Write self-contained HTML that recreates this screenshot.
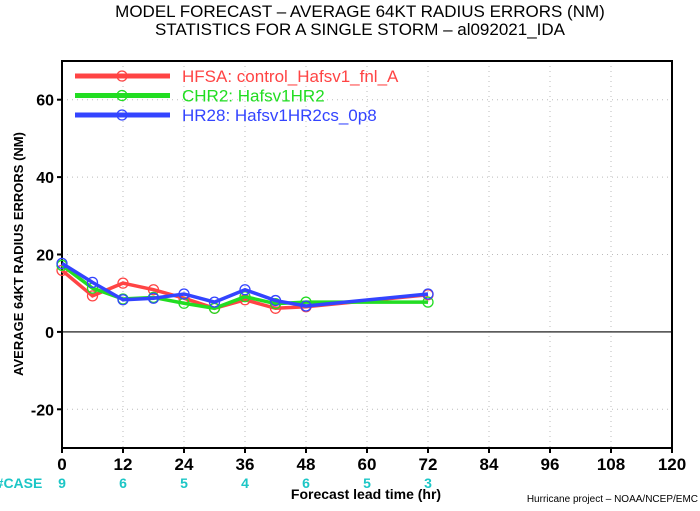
<!DOCTYPE html>
<html><head><meta charset="utf-8"><style>
body{margin:0;background:#fff;}
svg text{font-family:"Liberation Sans",sans-serif;}
</style></head><body>
<svg width="700" height="506" xmlns="http://www.w3.org/2000/svg">
<text x="360" y="17" text-anchor="middle" font-size="17">MODEL FORECAST – AVERAGE 64KT RADIUS ERRORS (NM)</text>
<text x="360" y="35" text-anchor="middle" font-size="17">STATISTICS FOR A SINGLE STORM – al092021_IDA</text>
<g id="grid"></g>
<g id="axes"></g>
<g id="series"></g>
<g id="legend"></g>
<text transform="translate(23,254) rotate(-90)" text-anchor="middle" font-size="13" font-weight="bold">AVERAGE 64KT RADIUS ERRORS (NM)</text>
<text x="366" y="499" text-anchor="middle" font-size="14" font-weight="bold">Forecast lead time (hr)</text>
<text x="19" y="488" text-anchor="middle" font-size="14" font-weight="bold" fill="#1cc6c6">#CASE</text>
<text x="698" y="502" text-anchor="end" font-size="10">Hurricane project – NOAA/NCEP/EMC</text>
</svg>
<script>
const hours=[0,6,12,18,24,30,36,42,48,72];
const hfsa=[15.9,9.3,12.6,10.9,8.7,6.1,8.3,6.1,6.5,9.6];
const chr2=[17.2,11.3,8.5,8.9,7.4,6.1,9.1,7.3,7.7,7.7];
const hr28=[17.7,12.8,8.3,8.7,9.8,7.7,10.9,8.1,6.7,9.8];
const xTicks=[0,12,24,36,48,60,72,84,96,108,120];
const yTicks=[-20,0,20,40,60];
const caseHours=[0,12,24,36,48,60,72];
const caseCounts=[9,6,5,4,6,5,3];
const L=62,R=672,T=61,B=448,ymin=-30,ymax=70;
const X=h=>L+(h/120)*(R-L);
const Y=v=>B-(v-ymin)/(ymax-ymin)*(B-T);
const NS="http://www.w3.org/2000/svg";
function mk(p,tag,attrs){const e=document.createElementNS(NS,tag);for(const k in attrs)e.setAttribute(k,attrs[k]);p.appendChild(e);return e;}
const grid=document.getElementById('grid'),axes=document.getElementById('axes'),ser=document.getElementById('series'),leg=document.getElementById('legend');
xTicks.forEach(t=>{const g=mk(grid,'line',{x1:X(t),x2:X(t),y1:T,y2:B,stroke:'#bbb','stroke-dasharray':'1,4'});


const tk=mk(axes,'line',{x1:X(t),x2:X(t),y1:B,y2:B+5,stroke:'#000','stroke-width':2});


const tx=mk(axes,'text',{x:X(t),y:B+22,'text-anchor':'middle','font-size':17,'font-weight':'bold'});tx.textContent=t;

});
yTicks.forEach(t=>{const g=mk(grid,'line',{x1:L,x2:R,y1:Y(t),y2:Y(t),stroke:t===0?'#444':'#bbb','stroke-width':t===0?1.5:1,'stroke-dasharray':t===0?'':'1,4'});


const tk=mk(axes,'line',{x1:L-5,x2:L,y1:Y(t),y2:Y(t),stroke:'#000','stroke-width':2});


const tx=mk(axes,'text',{x:L-8,y:Y(t)+6,'text-anchor':'end','font-size':16,'font-weight':'bold'});tx.textContent=t;

});
const box=mk(axes,'rect',{x:L,y:T,width:R-L,height:B-T,fill:'none',stroke:'#000','stroke-width':2});


caseHours.forEach((h,i)=>{const tx=mk(axes,'text',{x:X(h),y:488,'text-anchor':'middle','font-size':14,'font-weight':'bold',fill:'#1cc6c6'});tx.textContent=caseCounts[i];

});
const S=[[hfsa,'#ff4444','HFSA: control_Hafsv1_fnl_A'],[chr2,'#22dd22','CHR2: Hafsv1HR2'],[hr28,'#3344ff','HR28: Hafsv1HR2cs_0p8']];
S.forEach((s,si)=>{const pts=hours.map((h,i)=>X(h)+','+Y(s[0][i])).join(' ');
const pl=mk(ser,'polyline',{points:pts,fill:'none',stroke:s[1],'stroke-width':3.5});


hours.forEach((h,i)=>{const c=mk(ser,'circle',{cx:X(h),cy:Y(s[0][i]),r:5,fill:'none',stroke:s[1],'stroke-width':1.3});

});
const ly=76+si*19.5;
const ll=mk(leg,'line',{x1:75,x2:170,y1:ly,y2:ly,stroke:s[1],'stroke-width':5});


const lc=mk(leg,'circle',{cx:122,cy:ly,r:5,fill:'none',stroke:s[1],'stroke-width':1.3});


const lt=mk(leg,'text',{x:182,y:ly+6,'font-size':17,fill:s[1]});lt.textContent=s[2];

});
</script>
</body></html>
